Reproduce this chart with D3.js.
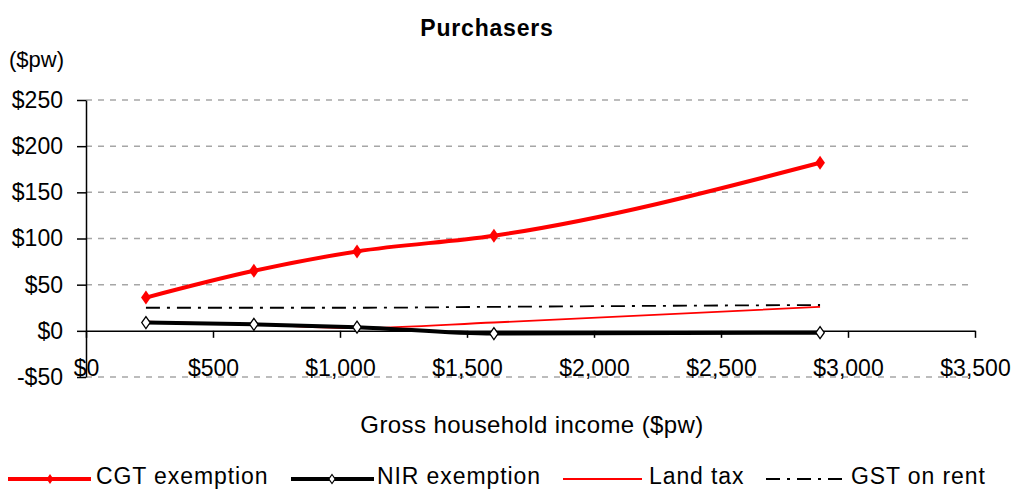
<!DOCTYPE html>
<html>
<head>
<meta charset="utf-8">
<script src="https://cdn.jsdelivr.net/npm/d3@7"></script>
<style>
  body { margin: 0; background: #fff; }
  text { font-family: "Liberation Sans", Arial, sans-serif; fill: #000; }
</style>
</head>
<body>
<svg id="chart" width="1025" height="490"></svg>
<script>
// values
const income = [236, 661, 1067, 1606, 2890];
const cgt = [36, 65, 86, 103, 182];
const nir = [9, 7, 4, -3, -2];
const landTax = [10, 7, 3, 9, 26];
const gstRent = [25, 25, 25, 26, 28];

const yTicks = [-50, 0, 50, 100, 150, 200, 250];
const xTicks = [0, 500, 1000, 1500, 2000, 2500, 3000, 3500];

const seriesNames = ["CGT exemption", "NIR exemption", "Land tax", "GST on rent"];

var svg = d3.select("#chart");

var x = d3.scaleLinear().domain([0, 3500]).range([86, 975]);
var y = d3.scaleLinear().domain([-50, 250]).range([377, 100]);

var fmt = d => (d < 0 ? "-$" : "$") + d3.format(",")(Math.abs(d));

// title
svg.append("text")
    .attr("x", 487).attr("y", 36)
    .attr("text-anchor", "middle")
    .style("font-size", "23px")
    .style("font-weight", "bold")
    .style("letter-spacing", "0.8px")
    .text("Purchasers");

svg.append("text")
    .attr("x", 9).attr("y", 67)
    .style("font-size", "22px")
    .text("($pw)");

// gridlines
svg.append("g")
    .selectAll("line")
    .data(yTicks.filter(d => d !== 0))
    .join("line")
    .attr("x1", x(0)).attr("x2", 970)
    .attr("y1", d => y(d)).attr("y2", d => y(d))
    .attr("stroke", "#a6a6a6")
    .attr("stroke-width", 1.5)
    .attr("stroke-dasharray", "6,6");

// y axis
var yAxis = svg.append("g")
    .attr("transform", "translate(" + x(0) + ",0)")
    .call(d3.axisLeft(y).tickValues(yTicks).tickFormat(fmt).tickSize(9).tickSizeOuter(0).tickPadding(14));
yAxis.select(".domain").attr("stroke", "#000").attr("stroke-width", 1.5);
yAxis.selectAll(".tick line").attr("stroke", "#000").attr("stroke-width", 1.5);
yAxis.selectAll("text")
    .style("font-family", "Liberation Sans, Arial, sans-serif")
    .style("font-size", "23px");

// x axis
var xAxis = svg.append("g")
    .attr("transform", "translate(0," + y(0) + ")")
    .call(d3.axisBottom(x).tickValues(xTicks).tickFormat(fmt).tickSize(7).tickSizeOuter(0));
xAxis.select(".domain").attr("stroke", "#000").attr("stroke-width", 1.5);
xAxis.selectAll(".tick line").attr("stroke", "#000").attr("stroke-width", 1.5);
xAxis.selectAll("text")
    .attr("y", 29)
    .attr("dy", "0.71em")
    .style("font-family", "Liberation Sans, Arial, sans-serif")
    .style("font-size", "23px");

svg.append("text")
    .attr("x", 532).attr("y", 433)
    .attr("text-anchor", "middle")
    .style("font-size", "24px")
    .style("letter-spacing", "0.4px")
    .text("Gross household income ($pw)");

// lines
var line = d3.line()
    .x(d => x(d[0]))
    .y(d => y(d[1]))
    .curve(d3.curveMonotoneX);

var zip = vals => income.map((v, i) => [v, vals[i]]);

svg.append("path")
    .attr("d", line(zip(gstRent)))
    .attr("fill", "none")
    .attr("stroke", "#000")
    .attr("stroke-width", 1.8)
    .attr("stroke-dasharray", "14,7,3,7");

svg.append("path")
    .attr("d", line(zip(landTax)))
    .attr("fill", "none")
    .attr("stroke", "#ff0000")
    .attr("stroke-width", 1.8);

svg.append("path")
    .attr("d", line(zip(nir)))
    .attr("fill", "none")
    .attr("stroke", "#000")
    .attr("stroke-width", 4);

svg.append("path")
    .attr("d", line(zip(cgt)))
    .attr("fill", "none")
    .attr("stroke", "#ff0000")
    .attr("stroke-width", 4);

var diamond = (s) => `M0,${-s}L${s * 0.7},0L0,${s}L${-s * 0.7},0Z`;

svg.append("g")
    .selectAll("path")
    .data(zip(nir))
    .join("path")
    .attr("transform", d => "translate(" + x(d[0]) + "," + y(d[1]) + ")")
    .attr("d", diamond(6))
    .attr("fill", "#fff")
    .attr("stroke", "#000")
    .attr("stroke-width", 1.3);

svg.append("g")
    .selectAll("path")
    .data(zip(cgt))
    .join("path")
    .attr("transform", d => "translate(" + x(d[0]) + "," + y(d[1]) + ")")
    .attr("d", diamond(7))
    .attr("fill", "#ff0000");

// legend
var legendX = [8, 291, 563, 766];
var legend = svg.append("g");
legend.selectAll("g")
    .data(seriesNames)
    .join("g")
    .attr("transform", (d, i) => "translate(" + legendX[i] + ",479)")
    .each(function (d, i) {
        var g = d3.select(this);
        var len = 83;
        var ln = g.append("line").attr("x1", 0).attr("x2", len).attr("y1", 0).attr("y2", 0);
        if (i === 0) ln.attr("stroke", "#ff0000").attr("stroke-width", 4);
        if (i === 1) ln.attr("stroke", "#000").attr("stroke-width", 4);
        if (i === 2) ln.attr("stroke", "#ff0000").attr("stroke-width", 2).attr("x2", 79);
        if (i === 3) ln.attr("stroke", "#000").attr("stroke-width", 1.8).attr("x2", 77).attr("stroke-dasharray", "14,7,3,7");
        if (i === 0) g.append("path").attr("transform", "translate(42,0)").attr("d", diamond(5)).attr("fill", "#ff0000");
        if (i === 1) g.append("path").attr("transform", "translate(41,0)").attr("d", diamond(4.5)).attr("fill", "#fff").attr("stroke", "#000").attr("stroke-width", 1.2);
        g.append("text")
            .attr("x", [88, 86, 86, 85][i])
            .attr("y", 5)
            .style("font-size", "23px")
            .style("letter-spacing", "0.9px")
            .text(d);
    });
</script>
</body>
</html>
